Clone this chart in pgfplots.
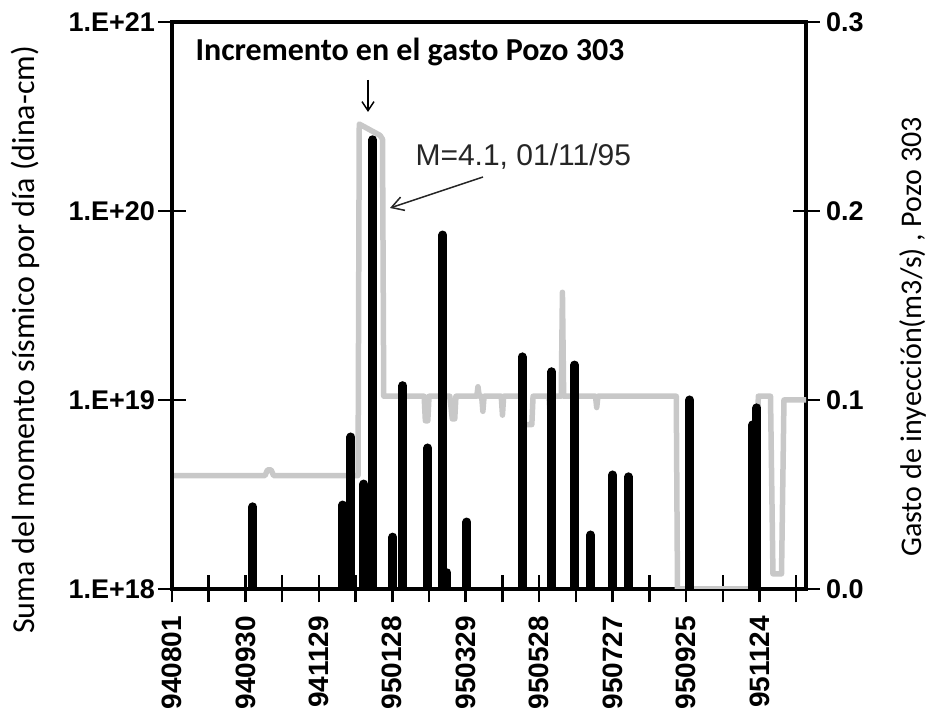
\documentclass[border=0pt]{standalone}
\usepackage{pgfplots}
\pgfplotsset{compat=1.18}
\usepackage{fontspec}
\setmainfont{Liberation Sans}
\newfontfamily\calib{Carlito}
\usetikzlibrary{arrows.meta}
\definecolor{inj}{RGB}{200,200,200}

\pgfplotstableread{
day rate
0 0.060
76 0.060
78 0.063
81 0.063
83 0.060
152 0.060
153 0.246
170 0.240
172 0.238
173 0.102
206 0.102
207 0.089
209 0.089
210 0.102
227 0.102
229 0.090
231 0.090
232 0.102
249 0.102
250 0.107
251 0.102
253 0.102
254 0.094
255 0.102
269 0.102
270 0.092
271 0.102
285 0.102
286 0.087
294 0.087
295 0.102
308 0.102
309 0.091
310 0.102
318 0.102
319 0.157
320 0.102
346 0.102
347 0.096
348 0.102
412 0.102
413 0.000
478 0.000
479 0.102
489 0.102
491 0.008
498 0.008
500 0.100
518 0.100
}\ratetable

\pgfplotstableread{
day moment
66 2.72e18
139.6 2.78e18
146.2 6.37e18
156.8 3.59e18
164 2.38e20
180.5 1.88e18
188.6 1.19e19
209 5.57e18
221.3 7.46e19
224.6 1.22e18
241 2.26e18
286 1.69e19
310.3 1.41e19
329 1.53e19
342 1.93e18
360 4.01e18
373 3.92e18
423 1.0e19
474.5 7.38e18
477.8 9.08e18
}\momtable

\begin{document}
\begin{tikzpicture}[x=1pt,y=1pt]
\useasboundingbox (-172,-122) rectangle (760,589);
\pgfplotsset{
  common/.style={
    at={(0,0)}, anchor=south west,
    scale only axis, width=634pt, height=567pt,
    xmin=0, xmax=518,
    axis line style={line width=4pt},
    tick style={line width=2.5pt, black},
    tick align=center,
    major tick length=27pt,
    minor tick length=27pt,
    ticklabel style={font=\fontsize{27}{30}\selectfont\bfseries},
  }
}
\begin{axis}[common,
  ymin=0, ymax=0.3,
  xtick={0,60,...,480},
  minor xtick={30,90,...,510},
  xtick pos=bottom,
  xticklabels={940801,940930,941129,950128,950329,950528,950727,950925,951124},
  xticklabel style={rotate=90, anchor=east, font=\fontsize{28}{30}\selectfont\bfseries},
  xticklabel shift=10pt,
  ytick={0,0.1,0.2,0.3},
  yticklabels={0.0,0.1,0.2,0.3},
  ytick pos=right,
  yticklabel pos=right,
  yticklabel shift=3pt,
]
\addplot[inj, line width=5.5pt, line join=round] table[x=day,y=rate]{\ratetable};
\end{axis}
\begin{axis}[common,
  ymode=log, ymin=1e18, ymax=1e21,
  axis y line*=left, axis x line=none,
  ytick={1e18,1e19,1e20,1e21},
  yticklabels={1.E+18,1.E+19,1.E+20,1.E+21},
  yminorticks=false,
]
\addplot[ycomb, black, line width=9pt, line cap=round, mark=none] table[x=day,y=moment]{\momtable};
\end{axis}
\node[font=\calib\fontsize{32}{34}\selectfont\bfseries] at (238,537) {Incremento en el gasto Pozo 303};
\draw[line width=1.5pt, -{Straight Barb[length=9pt,width=12pt]}] (196,509) -- (196,477);
\node[anchor=west, text=black!85, font=\fontsize{30}{32}\selectfont] at (240,432) {M=4.1, 01/11/95};
\draw[line width=1.5pt, black!85, -{Straight Barb[length=12pt,width=14pt]}] (311,412) -- (218,381);
\node[rotate=90, font=\calib\fontsize{32}{34}\selectfont] at (-147,249) {Suma del momento sísmico por día (dina-cm)};
\node[rotate=90, font=\calib\fontsize{30}{32}\selectfont] at (741,252) {Gasto de inyección(m3/s) , Pozo 303};
\end{tikzpicture}
\end{document}
